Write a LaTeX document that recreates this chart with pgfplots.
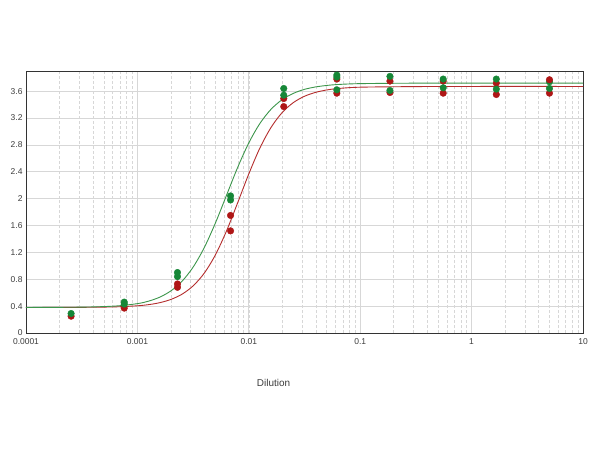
\documentclass[border=0pt]{standalone}
\usepackage{pgfplots}
\pgfplotsset{compat=1.18}
\usepackage{fontspec}
\setmainfont{Liberation Sans}
\definecolor{ptgreen}{RGB}{22,135,55}
\definecolor{ptred}{RGB}{175,22,22}
\definecolor{lngreen}{RGB}{60,150,75}
\definecolor{lnred}{RGB}{180,45,45}
\definecolor{gridgray}{RGB}{215,215,215}
\definecolor{ticktext}{RGB}{60,60,60}
\begin{document}
\begin{tikzpicture}
  \path[use as bounding box,fill=white] (0,0) rectangle (600bp,450bp);
  \begin{axis}[
      at={(26bp,117bp)}, anchor=south west,
      scale only axis,
      width=557bp, height=262bp,
      xmode=log,
      xmin=1e-4, xmax=10,
      ymin=0, ymax=3.9,
      ytick={0,0.4,...,3.61},
      yticklabels={0,0.4,0.8,1.2,1.6,2,2.4,2.8,3.2,3.6},
      xtick={1e-4,1e-3,1e-2,1e-1,1,10},
      xticklabels={0.0001,0.001,0.01,0.1,1,10},
      minor x tick num=8,
      grid=both,
      major grid style={gridgray, line width=0.6pt},
      minor grid style={gridgray, densely dashed, line width=0.5pt},
      minor y tick style={draw=none},
      tick style={draw=none},
      axis line style={black!80, line width=0.9pt},
      ticklabel style={font=\fontsize{8.5}{10}\selectfont, text=ticktext},
      xticklabel style={yshift=-2bp},
      xlabel={Dilution},
      xlabel style={font=\fontsize{10}{12}\selectfont, text=ticktext,
                    yshift=-28bp, xshift=-31bp},
      /pgf/number format/assume math mode=true,
      clip=false,
    ]
    % fitted curves
    \addplot[lnred, line width=0.9pt, smooth, no markers] coordinates {
      (1e-4,0.380) (3.162e-4,0.382) (6.31e-4,0.389) (1e-3,0.405)
      (1.259e-3,0.422) (1.585e-3,0.451) (1.995e-3,0.499) (2.512e-3,0.577)
      (3.162e-3,0.701) (3.981e-3,0.890) (5.012e-3,1.162) (6.31e-3,1.519)
      (7.943e-3,1.938) (0.01,2.368) (0.01259,2.755) (0.01585,3.061)
      (0.01995,3.282) (0.02512,3.430) (0.03162,3.524) (0.03981,3.582)
      (0.05012,3.618) (0.0631,3.639) (0.1,3.659) (0.3162,3.668)
      (1,3.670) (10,3.670)};
    \addplot[lngreen, line width=0.9pt, smooth, no markers] coordinates {
      (1e-4,0.380) (3.162e-4,0.385) (6.31e-4,0.401) (1e-3,0.437)
      (1.259e-3,0.474) (1.585e-3,0.533) (1.995e-3,0.626) (2.512e-3,0.769)
      (3.162e-3,0.980) (3.981e-3,1.270) (5.012e-3,1.636) (6.31e-3,2.050)
      (7.943e-3,2.464) (0.01,2.830) (0.01259,3.120) (0.01585,3.331)
      (0.01995,3.474) (0.02512,3.567) (0.03162,3.627) (0.03981,3.663)
      (0.05012,3.685) (0.0631,3.699) (0.1,3.712) (0.3162,3.719)
      (1,3.720) (10,3.720)};
    % measured points
    \addplot[only marks, mark=*, mark size=3.3bp, color=ptred] coordinates {
      (2.54e-4,0.25)
      (7.62e-4,0.37)
      (2.29e-3,0.73) (2.29e-3,0.68)
      (6.86e-3,1.75) (6.86e-3,1.52)
      (0.0206,3.49) (0.0206,3.37)
      (0.0617,3.78) (0.0617,3.57)
      (0.185,3.75) (0.185,3.58)
      (0.556,3.75) (0.556,3.57)
      (1.667,3.72) (1.667,3.55)
      (5,3.57)};
    \addplot[only marks, mark=*, mark size=3.3bp, color=ptgreen] coordinates {
      (2.54e-4,0.29)
      (7.62e-4,0.46) (7.62e-4,0.43)
      (2.29e-3,0.90) (2.29e-3,0.84)
      (6.86e-3,2.04) (6.86e-3,1.98)
      (0.0206,3.64) (0.0206,3.54)
      (0.0617,3.84) (0.0617,3.81) (0.0617,3.62)
      (0.185,3.82) (0.185,3.61)
      (0.556,3.78) (0.556,3.65)
      (1.667,3.78) (1.667,3.63)
      (5,3.74) (5,3.64)};
    \addplot[only marks, mark=*, mark size=3.3bp, color=ptred] coordinates {
      (5,3.77)};
  \end{axis}
\end{tikzpicture}
\end{document}
